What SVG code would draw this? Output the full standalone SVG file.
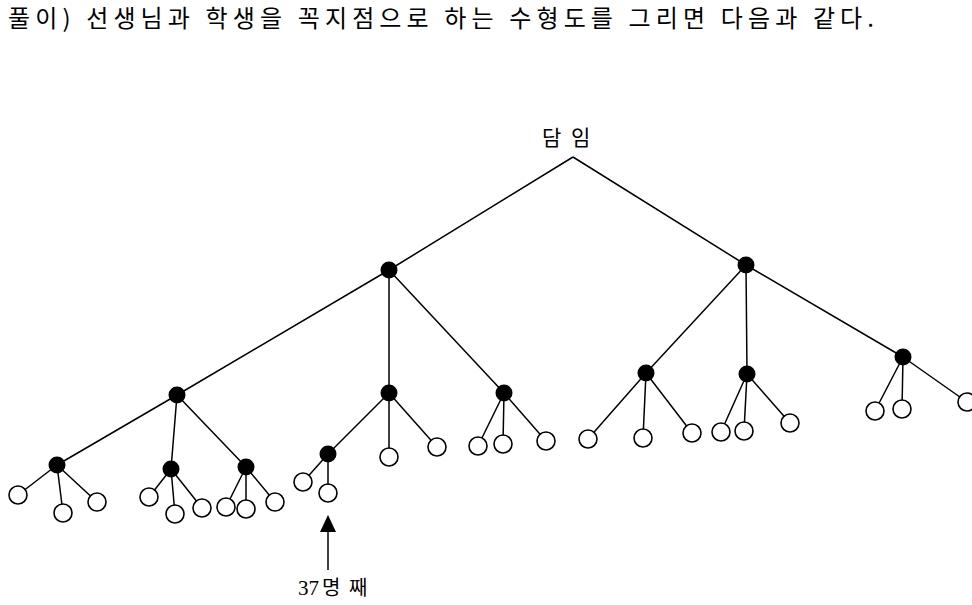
<svg xmlns="http://www.w3.org/2000/svg" width="972" height="605" viewBox="0 0 972 605">
<style>
.e{stroke:#000;stroke-width:1.5;fill:none}
.n{fill:#000}
.l{fill:#fff;stroke:#000;stroke-width:1.6}
.t{font-family:"Noto Sans CJK KR","Liberation Serif",serif;fill:#000}
.s{font-family:"Liberation Serif","Noto Sans CJK KR",serif;fill:#000}
</style>
<rect width="972" height="605" fill="#fff"/>
<text class="t" x="8" y="27" font-size="24" textLength="866" lengthAdjust="spacing">풀이) 선생님과 학생을 꼭지점으로 하는 수형도를 그리면 다음과 같다.</text>
<g id="connectors">
<path class="e" d="M573,157 L389,270 M573,157 L746,265
M389,270 L177,395 M389,270 L389,393 M389,270 L504,393
M746,265 L646,373 M746,265 L747,374 M746,265 L903,357
M177,395 L57,465 M177,395 L171,469 M177,395 L246,467
M57,465 L18,495 M57,465 L63,513 M57,465 L97,502
M171,469 L149,497 M171,469 L175,514 M171,469 L202,508
M246,467 L226,507 M246,467 L246,509 M246,467 L275,502
M389,393 L328,454 M389,393 L389,457 M389,393 L437,447
M328,454 L303,482 M328,454 L328,493
M504,393 L478,446 M504,393 L503,444 M504,393 L546,441
M646,373 L588,439 M646,373 L643,438 M646,373 L692,433
M747,374 L721,432 M747,374 L744,431 M747,374 L790,423
M903,357 L875,411 M903,357 L902,409 M903,357 L967,402"/>
<line class="e" x1="328" y1="570" x2="328" y2="530"/>
<polygon class="n" points="328,515 320,532 336,532"/>
</g>
<g id="root"><text class="t" y="145" font-size="21"><tspan x="542">담</tspan><tspan x="571">임</tspan></text></g>
<g id="t1"><circle class="n" cx="389" cy="270" r="8.5"/></g>
<g id="t2"><circle class="n" cx="746" cy="265" r="8.5"/></g>
<g id="a1"><circle class="n" cx="177" cy="395" r="8.5"/></g>
<g id="a2"><circle class="n" cx="389" cy="393" r="8.5"/></g>
<g id="a3"><circle class="n" cx="504" cy="393" r="8.5"/></g>
<g id="a4"><circle class="n" cx="646" cy="373" r="8.5"/></g>
<g id="a5"><circle class="n" cx="747" cy="374" r="8.5"/></g>
<g id="a6"><circle class="n" cx="903" cy="357" r="8.5"/></g>
<g id="b1"><circle class="n" cx="57" cy="465" r="8.5"/></g>
<g id="b2"><circle class="n" cx="171" cy="469" r="8.5"/></g>
<g id="b3"><circle class="n" cx="246" cy="467" r="8.5"/></g>
<g id="b4"><circle class="n" cx="328" cy="454" r="8.5"/></g>
<g id="leaves">
<circle class="l" cx="18" cy="495" r="9"/>
<circle class="l" cx="63" cy="513" r="9"/>
<circle class="l" cx="97" cy="502" r="9"/>
<circle class="l" cx="149" cy="497" r="9"/>
<circle class="l" cx="175" cy="514" r="9"/>
<circle class="l" cx="202" cy="508" r="9"/>
<circle class="l" cx="226" cy="507" r="9"/>
<circle class="l" cx="246" cy="509" r="9"/>
<circle class="l" cx="275" cy="502" r="9"/>
<circle class="l" cx="303" cy="482" r="9"/>
<circle class="l" cx="328" cy="493" r="9"/>
<circle class="l" cx="389" cy="457" r="9"/>
<circle class="l" cx="437" cy="447" r="9"/>
<circle class="l" cx="478" cy="446" r="9"/>
<circle class="l" cx="503" cy="444" r="9"/>
<circle class="l" cx="546" cy="441" r="9"/>
<circle class="l" cx="588" cy="439" r="9"/>
<circle class="l" cx="643" cy="438" r="9"/>
<circle class="l" cx="692" cy="433" r="9"/>
<circle class="l" cx="721" cy="432" r="9"/>
<circle class="l" cx="744" cy="431" r="9"/>
<circle class="l" cx="790" cy="423" r="9"/>
<circle class="l" cx="875" cy="411" r="9"/>
<circle class="l" cx="902" cy="409" r="9"/>
<circle class="l" cx="967" cy="402" r="9"/>
</g>
<g id="label37"><text class="s" y="595" font-size="21"><tspan x="298">37</tspan><tspan class="t" x="322" font-size="20">명</tspan><tspan class="t" x="349" font-size="20">째</tspan></text></g>
</svg>
